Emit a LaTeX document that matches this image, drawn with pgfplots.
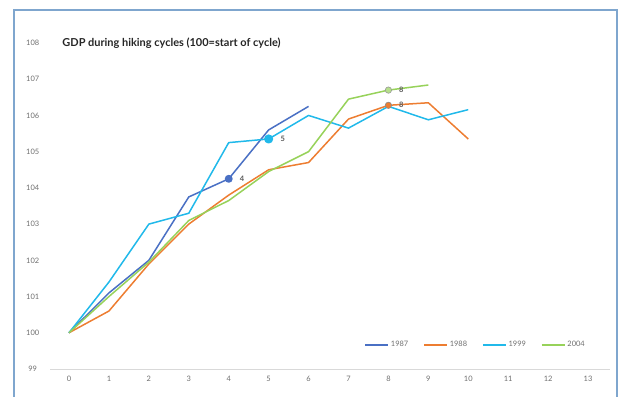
\documentclass[border=0pt]{standalone}
\usepackage{pgfplots}
\pgfplotsset{compat=1.18}
\usepackage{fontspec}
\setmainfont{Lato}
\definecolor{c87}{HTML}{4A70C4}
\definecolor{c88}{HTML}{ED7D31}
\definecolor{c99}{HTML}{21B9EA}
\definecolor{c04}{HTML}{97D25A}
\definecolor{tickgray}{HTML}{6E6E6E}
\definecolor{framec}{HTML}{7FA6CE}
\begin{document}
\begin{tikzpicture}[x=1bp,y=1bp]
\begin{axis}[
  scale only axis,
  width=560bp, height=326bp,
  xmin=-0.476, xmax=13.55,
  ymin=99, ymax=108,
  axis x line*=bottom, axis y line=none,
  x axis line style={draw=black!15, line width=0.8bp},
  xtick={0,...,13}, ytick={99,...,108},
  major tick length=0pt,
  tick label style={font=\fontsize{7.5}{8}\selectfont, text=tickgray},
  /pgf/number format/assume math mode=true,
  xticklabel style={yshift=-4bp},
  clip=false,
  legend style={draw=none, fill=none, at={(rel axis cs:0.76,0.074)}, anchor=center,
    font=\fontsize{7.5}{8}\selectfont, text=tickgray, /tikz/every even column/.append style={column sep=13bp}},
  legend columns=4,
  legend image code/.code={\draw[#1, line width=1.5bp] (0bp,0bp) -- (23bp,0bp);},
  every axis plot/.append style={line width=1.5bp, line join=round},
]
% y tick labels drawn on the left, without an axis line
\pgfplotsinvokeforeach{99,...,108}{%
  \node[anchor=center, font=\fontsize{7.5}{8}\selectfont, text=tickgray] at (axis cs:-0.91,#1) {#1};}

\addplot[c87, no marks] coordinates {(0,100) (1,101.1) (2,102) (3,103.75) (4,104.25) (5,105.6) (6,106.25)};
\addlegendentry{1987}
\addplot[c88, no marks] coordinates {(0,100) (1,100.6) (2,101.9) (3,103.0) (4,103.8) (5,104.5) (6,104.7) (7,105.9) (8,106.28) (9,106.35) (10,105.35)};
\addlegendentry{1988}
\addplot[c99, no marks] coordinates {(0,100) (1,101.4) (2,103.0) (3,103.3) (4,105.25) (5,105.35) (6,106.0) (7,105.65) (8,106.25) (9,105.88) (10,106.16)};
\addlegendentry{1999}
\addplot[c04, no marks] coordinates {(0,100) (1,101.0) (2,101.95) (3,103.1) (4,103.65) (5,104.45) (6,105.0) (7,106.45) (8,106.7) (9,106.84)};
\addlegendentry{2004}

% highlighted points with their labels
\addplot[only marks, mark=*, mark size=3.2bp, c87, forget plot] coordinates {(4,104.25)}
  node[anchor=west, xshift=7bp, font=\fontsize{7.5}{8}\selectfont\bfseries, text=black!65] {4};
\addplot[only marks, mark=*, mark size=3.8bp, c99, forget plot] coordinates {(5,105.35)}
  node[anchor=west, xshift=8bp, font=\fontsize{7.5}{8}\selectfont\bfseries, text=black!65] {5};
\addplot[only marks, mark=*, mark size=3.2bp, fill=c88, draw=black!45, line width=0.6bp, forget plot] coordinates {(8,106.28)}
  node[anchor=west, xshift=7bp, font=\fontsize{7.5}{8}\selectfont\bfseries, text=black!65] {8};
\addplot[only marks, mark=*, mark size=3.2bp, fill=c04!70!white, draw=black!40, line width=0.6bp, forget plot] coordinates {(8,106.7)}
  node[anchor=west, xshift=7bp, font=\fontsize{7.5}{8}\selectfont\bfseries, text=black!65] {8};

\node[anchor=west, font=\fontsize{11}{13}\selectfont\bfseries, text=black!85] at (rel axis cs:0.016,1.0) {GDP during hiking cycles (100=start of cycle)};

% picture extent and frame
\coordinate (bl) at (rel axis cs:-0.08929,-0.08589);
\coordinate (tr) at (rel axis cs:1.01786,1.13190);
\coordinate (fbl) at (rel axis cs:-0.06429,-0.12);
\coordinate (ftr) at (rel axis cs:1.01250,1.10123);
\end{axis}
\pgfresetboundingbox
\useasboundingbox (bl) rectangle (tr);
\draw[framec, line width=1.8bp] (fbl) rectangle (ftr);
\end{tikzpicture}
\end{document}
